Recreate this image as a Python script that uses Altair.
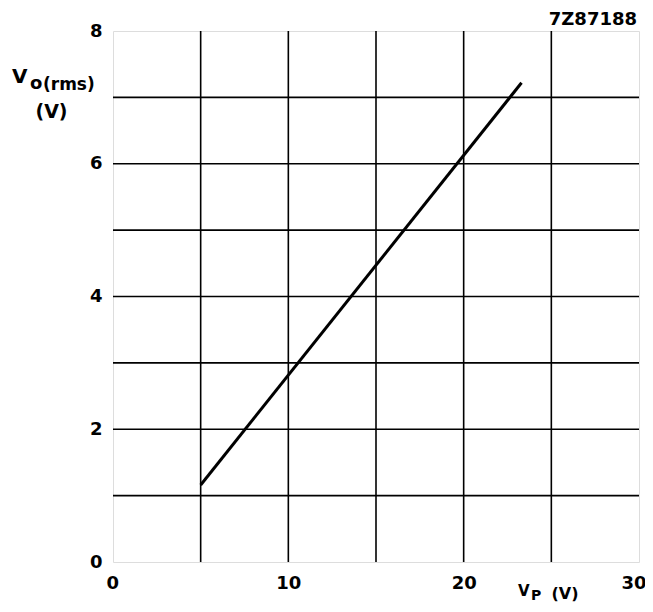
import altair as alt
import pandas as pd

# data
vp = [5.0, 23.3]
vo = [1.16, 7.22]
x_ticks = [0, 10, 20, 30]
y_ticks = [0, 2, 4, 6, 8]
x_grid = [5, 10, 15, 20, 25]
y_grid = [1, 2, 3, 4, 5, 6, 7]

W, H = 526, 531
FONT = "DejaVu Sans"

df = pd.DataFrame({"vp": vp, "vo": vo})

xs = alt.Scale(domain=[0, 30], nice=False, zero=False)
ys = alt.Scale(domain=[0, 8], nice=False, zero=False)

line = alt.Chart(df).mark_line(color="black", strokeWidth=3).encode(
    x=alt.X("vp:Q", scale=xs, axis=alt.Axis(
        values=x_ticks, title=None, grid=False, format="d",
        domain=False, ticks=False, labelFontSize=18, labelFont=FONT,
        labelFontWeight="bold", labelColor="black", labelPadding=12,
        labelFlush=True, labelFlushOffset=7)),
    y=alt.Y("vo:Q", scale=ys, axis=alt.Axis(
        values=y_ticks, title=None, grid=False, format="d",
        domain=False, ticks=False, labelFontSize=18, labelFont=FONT,
        labelFontWeight="bold", labelColor="black", labelPadding=11)),
)

gx = pd.DataFrame({"g": x_grid})
gy = pd.DataFrame({"g": y_grid})
vgrid = alt.Chart(gx).mark_rule(color="black", strokeWidth=1.6).encode(
    x=alt.X("g:Q", scale=xs))
hgrid = alt.Chart(gy).mark_rule(color="black", strokeWidth=1.6).encode(
    y=alt.Y("g:Q", scale=ys))


def txt(s, x, y, size, align="left", baseline="alphabetic", weight="bold"):
    return alt.Chart(pd.DataFrame({"t": [s]})).mark_text(
        font=FONT, fontSize=size, fontWeight=weight, color="black",
        align=align, baseline=baseline).encode(
        text="t:N", x=alt.value(x), y=alt.value(y))


labels = [
    txt("V", -101, 52, 20),
    txt("o", -83, 58, 18),
    txt("(rms)", -70, 59, 17),
    txt("(V)", -61.5, 87, 19, align="center"),
    txt("V", 405, 565, 15),
    txt("P", 418, 569, 14),
    txt("(V)", 452, 568, 16, align="center"),
    txt("7Z87188", 524, -6, 18, align="right"),
]

chart = alt.layer(vgrid, hgrid, line, *labels).properties(
    width=W, height=H,
    autosize=alt.AutoSizeParams(type="none"),
    padding={"left": 105, "top": 23, "right": 6, "bottom": 42},
).configure_view(stroke="black", strokeWidth=2.5).configure(background="white")

chart.save("out.html", embed_options={"renderer": "svg", "actions": False})
